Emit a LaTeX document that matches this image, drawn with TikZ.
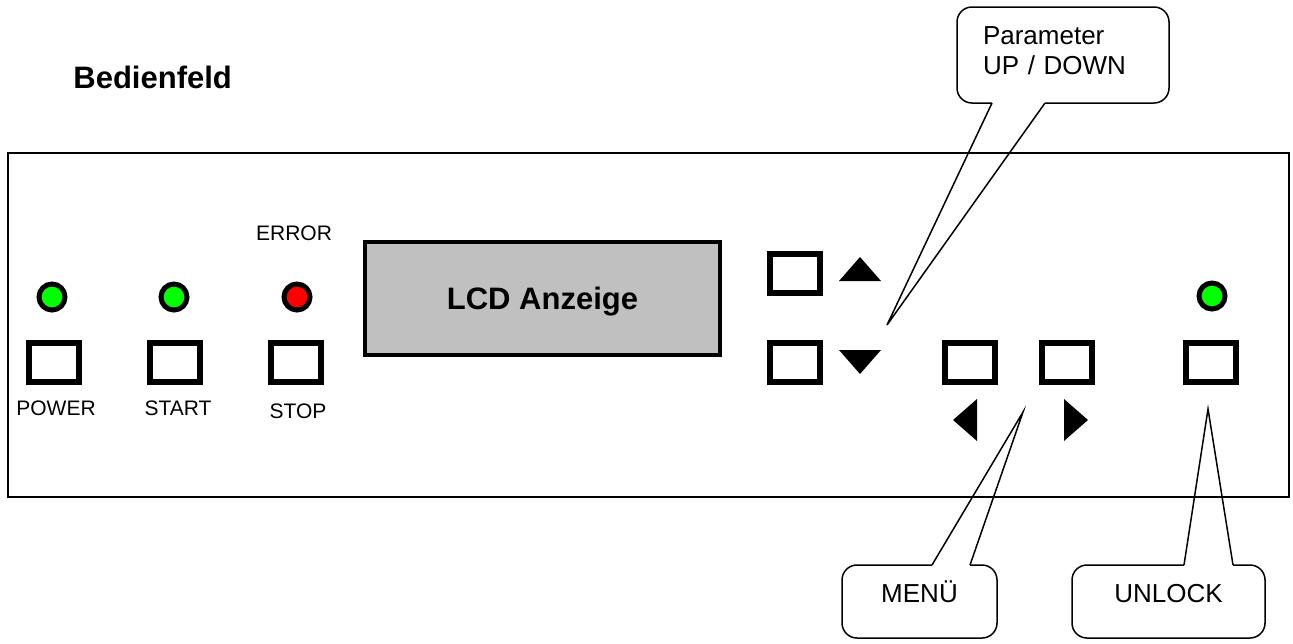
\documentclass[tikz,border=0pt]{standalone}
\usepackage{fontspec}
\setmainfont{Liberation Sans}
\usepackage{tikz}
\usetikzlibrary{calc}
\definecolor{ledgruen}{rgb}{0.0, 1.0, 0.0}
\definecolor{ledrot}{rgb}{1.0, 0.0, 0.0}
\definecolor{lcdgrau}{RGB}{192, 192, 192}

\begin{document}
\begin{tikzpicture}[x=0.5pt, y=-0.5pt,
    taste/.style={draw, line width=3pt, minimum width=25pt, minimum height=19.5pt, inner sep=0pt},
    led/.style={circle, draw, line width=2.5pt, minimum size=13pt, inner sep=0pt},
    beschr/.style={font=\fontsize{10.5}{12}\selectfont, anchor=base, inner sep=0pt},
    sprechblase/.style={draw, line width=0.75pt, rounded corners=7.5pt, outer sep=0pt,
        font=\fontsize{13}{15}\selectfont}]
    % Hintergrund
    \fill[white] (0, 0) rectangle (1293, 643);

    % Titel
    \node[font=\fontsize{15.5}{18}\selectfont\bfseries, anchor=base west, inner sep=0pt] (titel) at (73, 88) {Bedienfeld};

    % Frontplatte
    \draw[line width=1pt] (8, 153) rectangle (1289, 497);

    % LEDs
    \node[led, fill=ledgruen] (ledpower) at (52, 297) {};
    \node[led, fill=ledgruen] (ledstart) at (174, 297) {};
    \node[led, fill=ledrot] (lederror) at (297, 297) {};
    \node[led, fill=ledgruen] (ledunlock) at (1212, 296) {};

    % Tasten
    \node[taste] (power) at (54, 362.5) {};
    \node[taste] (start) at (174.5, 362.5) {};
    \node[taste] (stop) at (296, 362.5) {};
    \node[taste] (hoch) at (795, 273.5) {};
    \node[taste] (runter) at (795, 362.5) {};
    \node[taste] (links) at (969.5, 362.5) {};
    \node[taste] (rechts) at (1066.5, 362.5) {};
    \node[taste] (unlock) at (1211, 362.5) {};

    % Beschriftungen
    \node[beschr] (txtpower) at (56, 415) {POWER};
    \node[beschr] (txtstart) at (178, 415) {START};
    \node[beschr] (txtstop) at (298, 418) {STOP};
    \node[beschr] (txterror) at (294, 240) {ERROR};

    % LCD
    \node[draw, line width=2pt, fill=lcdgrau, minimum width=177.5pt, minimum height=56.5pt,
        font=\fontsize{15.5}{18}\selectfont\bfseries, text depth=0pt] (lcd) at (542.5, 298.5) {LCD Anzeige};

    % Pfeile
    \fill (839, 281) -- (881, 281) -- (860, 257) -- cycle;
    \fill (839, 350) -- (881, 350) -- (860, 374) -- cycle;
    \fill (977, 399) -- (977, 441) -- (953, 420) -- cycle;
    \fill (1064, 399) -- (1064, 441) -- (1088, 420) -- cycle;

    % Sprechblasen
    \node[sprechblase, minimum height=48pt, inner xsep=13pt, text width=80pt, align=left, text depth=19.5pt] (parameter) at (1063, 55) {Parameter\\UP / DOWN};
    \node[sprechblase, minimum width=77.5pt, minimum height=36.5pt, text height=10pt, text depth=9pt] (menu) at (919.5, 601.5) {MENÜ};
    \node[sprechblase, minimum width=96.5pt, minimum height=36.5pt, text height=10pt, text depth=9pt] (unlockblase) at (1168.5, 601.5) {UNLOCK};

    \coordinate (parspitze) at (887, 325);
    \coordinate (menuspitze) at (1023, 412);
    \coordinate (unlockspitze) at (1208, 409);

    \fill[white] ($(parameter.south west)+(35, -2)$) rectangle ($(parameter.south west)+(88, 2)$);
    \draw[line width=0.75pt] ($(parameter.south west)+(35, 0)$) -- (parspitze) -- ($(parameter.south west)+(88, 0)$);

    \fill[white] ($(menu.north west)+(90, -2)$) rectangle ($(menu.north west)+(128, 2)$);
    \draw[line width=0.75pt] ($(menu.north west)+(90, 0)$) -- (menuspitze) -- ($(menu.north west)+(128, 0)$);

    \fill[white] ($(unlockblase.north west)+(112, -2)$) rectangle ($(unlockblase.north west)+(161, 2)$);
    \draw[line width=0.75pt] ($(unlockblase.north west)+(112, 0)$) -- (unlockspitze) -- ($(unlockblase.north west)+(161, 0)$);
\end{tikzpicture}
\end{document}
